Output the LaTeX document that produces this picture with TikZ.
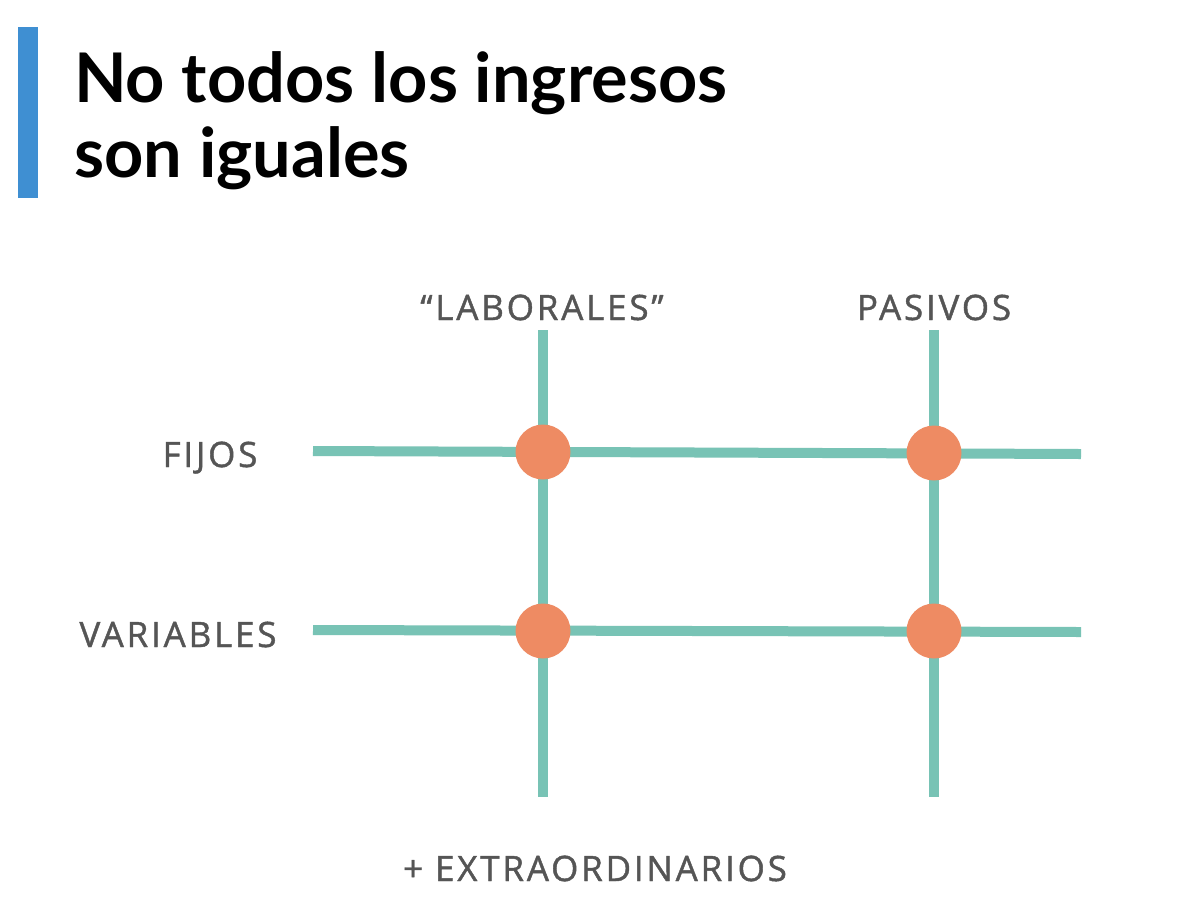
\documentclass[tikz,border=0pt]{standalone}
\usepackage{fontspec}
\setmainfont{Lato}
\newfontfamily\labelfont[LetterSpace=8,FakeBold=1.2]{Open Sans}
\definecolor{barblue}{HTML}{3F8FD2}
\definecolor{teal}{HTML}{78C3B5}
\definecolor{dot}{HTML}{EE8B63}
\definecolor{labgrey}{HTML}{555555}
\tikzset{
  gridline/.style={draw=teal, line width=10pt},
  dotnode/.style={circle, fill=dot, minimum size=55pt, inner sep=0pt},
  axislabel/.style={text=labgrey, font=\labelfont\fontsize{35}{40}\selectfont, inner sep=0pt},
  titletext/.style={anchor=base west, inner sep=0pt, font=\bfseries\fontsize{68.5}{75}\selectfont},
}
\begin{document}
\begin{tikzpicture}[x=1pt,y=-1pt]
\useasboundingbox (0,0) rectangle (1186,906);
\fill[white] (0,0) rectangle (1186,906);
\fill[barblue] (18,27) rectangle (38,198);
\node[titletext] (t1) at (74,102) {No todos los ingresos};
\node[titletext] (t2) at (74,177) {son iguales};

\coordinate (c1t) at (543,330);
\coordinate (c1b) at (543,797);
\coordinate (c2t) at (934,330);
\coordinate (c2b) at (934,797);
\coordinate (r1l) at (313,451);
\coordinate (r1r) at (1081,454);
\coordinate (r2l) at (313,630);
\coordinate (r2r) at (1081,632);

\draw[gridline] (c1t) -- (c1b);
\draw[gridline] (c2t) -- (c2b);
\draw[gridline] (r1l) -- (r1r);
\draw[gridline] (r2l) -- (r2r);

\node[dotnode] (d11) at (543,452) {};
\node[dotnode] (d12) at (934,453) {};
\node[dotnode] (d21) at (543,631) {};
\node[dotnode] (d22) at (934,631) {};

\node[axislabel, anchor=base] (lab) at (542,320) {“LABORALES”};
\node[axislabel, anchor=base] (pas) at (934,320) {PASIVOS};
\node[axislabel, anchor=base] (fij) at (210,467) {FIJOS};
\node[axislabel, anchor=base] (var) at (178,647) {VARIABLES};
\node[axislabel, anchor=base] (ext) at (595,881) {+ EXTRAORDINARIOS};
\end{tikzpicture}
\end{document}
